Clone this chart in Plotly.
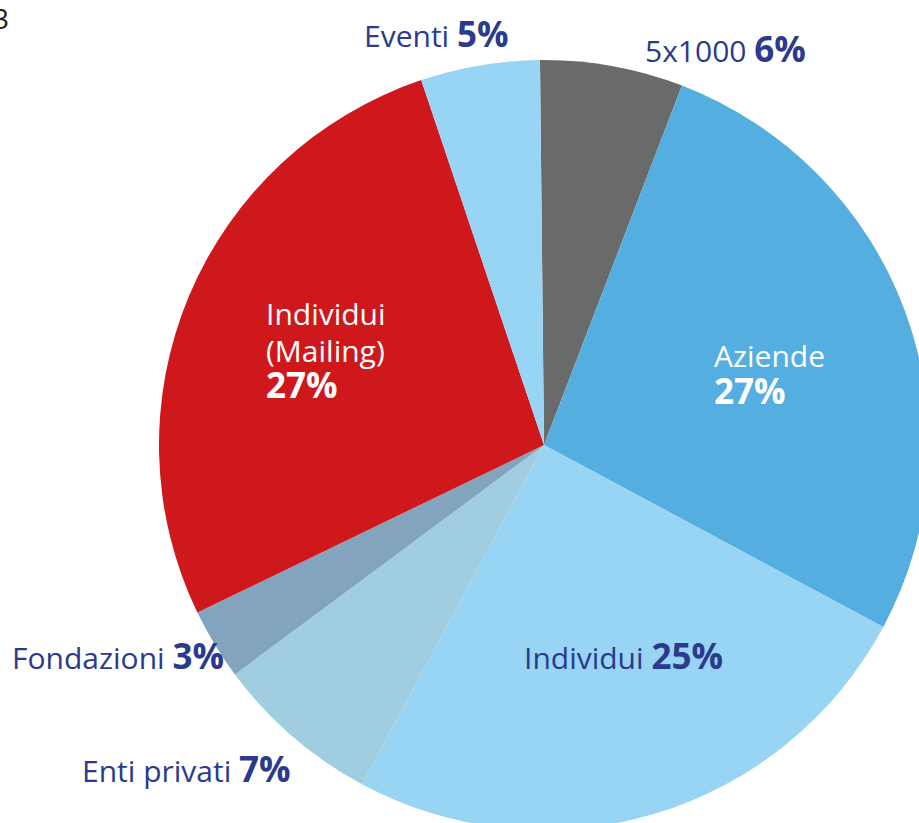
import plotly.graph_objects as go

# fonti di raccolta fondi
categorie = ['5x1000', 'Aziende', 'Individui', 'Enti privati', 'Fondazioni',
             'Individui (Mailing)', 'Eventi']
percentuali = [6, 27, 25, 7, 3, 27, 5]
colori = ['#696b6a', '#55aee0', '#98d4f4', '#a0cde0', '#83a4bd', '#ce181b', '#98d4f4']

NAVY = '#2b3a8c'
W, H = 940, 840

def px_x(x):
    return x / W

def px_y(y):
    return 1 - y / H

fig = go.Figure(go.Pie(
    labels=categorie, values=percentuali, sort=False,
    direction='clockwise', rotation=-0.6,
    marker=dict(colors=colori, line=dict(width=0)),
    textinfo='none', hoverinfo='label+percent', showlegend=False,
    domain=dict(x=[px_x(159), px_x(929)], y=[px_y(830), px_y(60)]),
))

def pct(v):
    return f'<b><span style="font-size:35px">{v}%</span></b>'

# etichette: (testo, x, y, xanchor, colore)
etichette = [
    ('Eventi ' + pct(5), 511, 34, 'right', NAVY),
    ('5x1000 ' + pct(6), 643, 48, 'left', NAVY),
    ('Aziende', 712, 355, 'left', 'white'),
    (pct(27), 712, 390, 'left', 'white'),
    ('Individui ' + pct(25), 522, 655, 'left', NAVY),
    ('Fondazioni ' + pct(3), 10, 655, 'left', NAVY),
    ('Enti privati ' + pct(7), 293, 768, 'right', NAVY),
    ('Individui', 264, 313, 'left', 'white'),
    ('(Mailing)', 264, 350, 'left', 'white'),
    (pct(27), 264, 385, 'left', 'white'),
]
for testo, x, y, xa, col in etichette:
    fig.add_annotation(text=testo, x=px_x(x), y=px_y(y), xref='paper', yref='paper',
                       xanchor=xa, yanchor='middle', align='left', showarrow=False,
                       font=dict(size=30, color=col, family='Open Sans'))

# numero di pagina tagliato in alto a sinistra
fig.add_annotation(text='3', x=px_x(11), y=px_y(18), xref='paper', yref='paper',
                   xanchor='right', yanchor='middle', showarrow=False,
                   font=dict(size=28, color='#222222', family='Open Sans'))

fig.update_layout(width=W, height=H, margin=dict(l=0, r=0, t=0, b=0),
                  paper_bgcolor='white', plot_bgcolor='white')

fig.write_html('out.html', config={'displayModeBar': False},
               post_script="document.body.style.margin='0';document.body.style.overflow='hidden';")
